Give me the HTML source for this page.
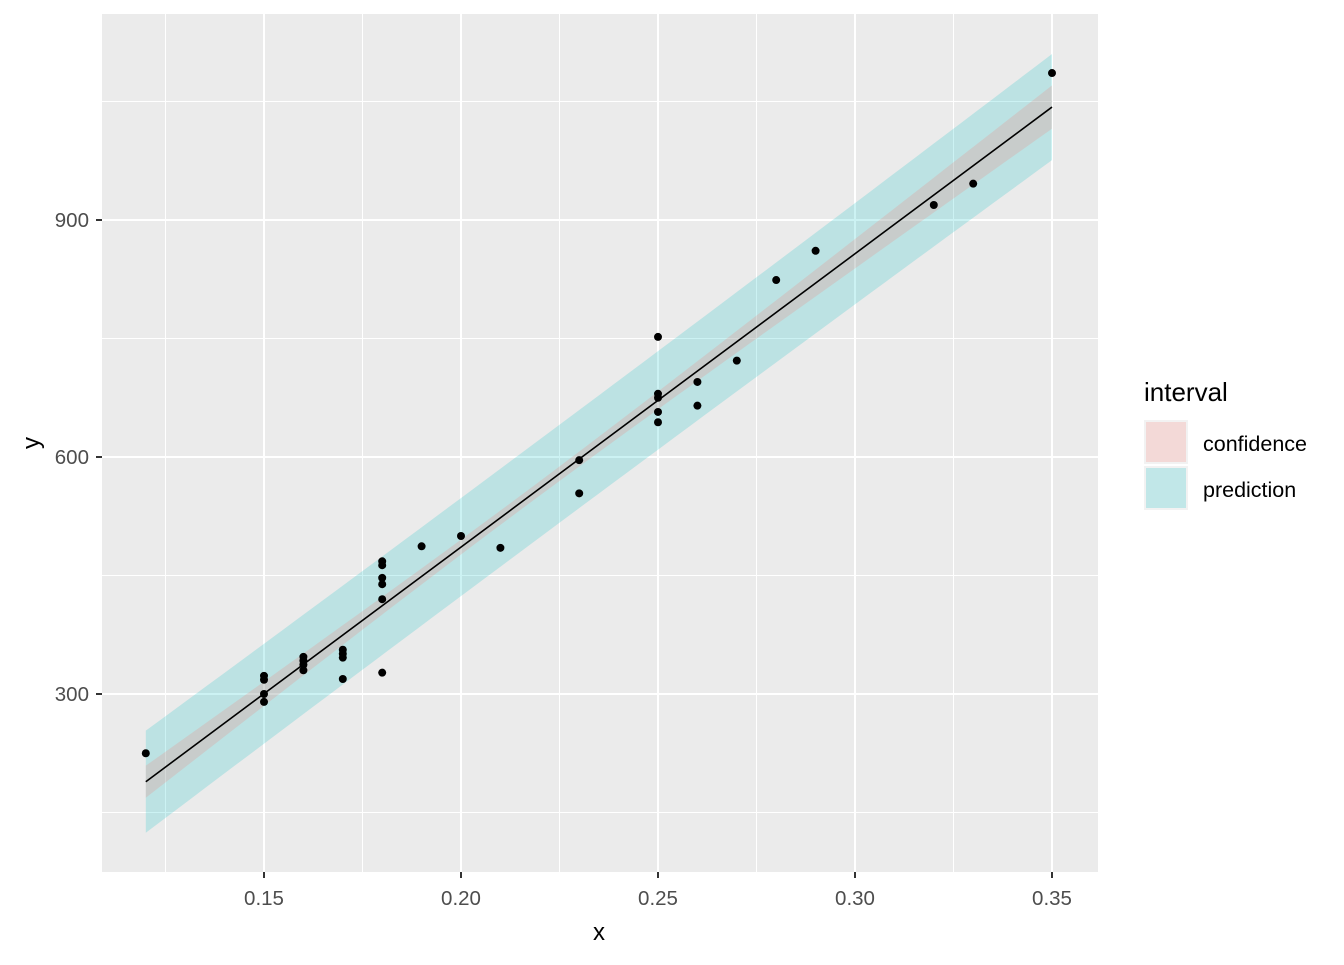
<!DOCTYPE html>
<html><head><meta charset="utf-8"><style>
body{margin:0;background:#fff;font-family:"Liberation Sans",sans-serif;}
svg text{font-family:"Liberation Sans",sans-serif;}
</style></head><body>
<svg id="chart" width="1344" height="960" xmlns="http://www.w3.org/2000/svg">
<rect x="102" y="14" width="996" height="858" fill="#EBEBEB"/>
<g id="grid"></g><g id="bands"></g><g id="line"></g><g id="points"></g><g id="axes"></g>
<text x="599" y="940" font-size="24" text-anchor="middle" fill="#000">x</text>
<text x="39" y="443" font-size="24" text-anchor="middle" fill="#000" transform="rotate(-90 39 443)">y</text>
<g>
<text x="1144" y="401" font-size="26" fill="#000">interval</text>
<rect x="1144" y="420" width="44" height="44" fill="#F2F2F2"/>
<rect x="1146" y="422" width="40" height="40" fill="#F8766D" fill-opacity="0.2"/>
<rect x="1144" y="466" width="44" height="44" fill="#F2F2F2"/>
<rect x="1146" y="468" width="40" height="40" fill="#00BFC4" fill-opacity="0.2"/>
<text x="1203" y="451" font-size="21.5" fill="#000">confidence</text>
<text x="1203" y="497" font-size="21.5" fill="#000">prediction</text>
</g>
</svg>
<script>
const xs=[0.12,0.15,0.15,0.15,0.15,0.16,0.16,0.16,0.16,0.17,0.17,0.17,0.17,0.18,0.18,0.18,0.18,0.18,0.18,0.19,0.20,0.21,0.23,0.23,0.25,0.25,0.25,0.25,0.25,0.26,0.26,0.27,0.28,0.29,0.32,0.33,0.35];
const ys=[225,323,318,300,290,347,342,337,330,356,351,346,319,468,463,447,439,420,327,487,500,485,596,554,752,680,675,657,644,695,665,722,824,861,919,946,1086];
const fitLine=[-256.6,3713];
const confParams=[9,0.215,36700];
const predParams=[62,0.215,36700];
const xTicks=[0.15,0.20,0.25,0.30,0.35];
const xTickLabels=["0.15","0.20","0.25","0.30","0.35"];
const yTicks=[300,600,900];
const yTickLabels=["300","600","900"];
const xMinor=[0.125,0.175,0.225,0.275,0.325];
const yMinor=[150,450,750,1050];
const NS="http://www.w3.org/2000/svg";
const sx=v=>264+(v-0.15)*3940;
const sy=v=>694-(v-300)*0.79;
function mk(tag,attrs,parent){const e=document.createElementNS(NS,tag);for(const k in attrs)e.setAttribute(k,attrs[k]);document.getElementById(parent).appendChild(e);return e;}
xMinor.forEach(v=>{const e=mk('line',{x1:sx(v),x2:sx(v),y1:14,y2:872,stroke:'#fff','stroke-width':1},'grid');

});
yMinor.forEach(v=>{const e=mk('line',{x1:102,x2:1098,y1:sy(v),y2:sy(v),stroke:'#fff','stroke-width':1},'grid');

});
xTicks.forEach((v,i)=>{const e=mk('line',{x1:sx(v),x2:sx(v),y1:14,y2:872,stroke:'#fff','stroke-width':2},'grid');


const t=mk('line',{x1:sx(v),x2:sx(v),y1:872,y2:878,stroke:'#333','stroke-width':2},'axes');


const l=mk('text',{x:sx(v),y:905,'font-size':20.5,'text-anchor':'middle',fill:'#4D4D4D'},'axes');l.textContent=xTickLabels[i];

});
yTicks.forEach((v,i)=>{const e=mk('line',{x1:102,x2:1098,y1:sy(v),y2:sy(v),stroke:'#fff','stroke-width':2},'grid');


const t=mk('line',{x1:96,x2:102,y1:sy(v),y2:sy(v),stroke:'#333','stroke-width':2},'axes');


const l=mk('text',{x:89,y:sy(v)+7,'font-size':20.5,'text-anchor':'end',fill:'#4D4D4D'},'axes');l.textContent=yTickLabels[i];

});
const x0=Math.min(...xs),x1=Math.max(...xs);
const fit=x=>fitLine[0]+fitLine[1]*x;
function band(p,name,color){const top=[],bot=[];const n=60;
for(let i=0;i<=n;i++){const x=x0+(x1-x0)*i/n;const h=Math.sqrt(p[0]*p[0]+p[2]*(x-p[1])*(x-p[1]));top.push(sx(x)+','+sy(fit(x)+h));bot.unshift(sx(x)+','+sy(fit(x)-h));}
const e=mk('polygon',{points:top.concat(bot).join(' '),fill:color,'fill-opacity':0.2},'bands');

}
band(predParams,'prediction-band','#00BFC4');
band(confParams,'confidence-band','#F8766D');
const ln=mk('line',{x1:sx(x0),y1:sy(fit(x0)),x2:sx(x1),y2:sy(fit(x1)),stroke:'#000','stroke-width':1.6},'line');


xs.forEach((x,i)=>{const c=mk('circle',{cx:sx(x),cy:sy(ys[i]),r:4,fill:'#000'},'points');

});
</script>
</body></html>
